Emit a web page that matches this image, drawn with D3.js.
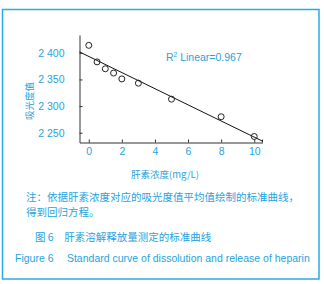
<!DOCTYPE html>
<html>
<head>
<meta charset="utf-8">
<script src="https://cdn.jsdelivr.net/npm/d3@7"></script>
<style>
  body { margin: 0; background: #fff; }
  svg { display: block; }
  text { font-family: "Liberation Sans", Arial, "Noto Sans CJK SC", sans-serif; }
  .cjk { font-family: "Noto Sans CJK SC", sans-serif; }
</style>
</head>
<body>
<svg id="chart" width="324" height="284"></svg>
<script>
// heparin concentration (mg/L) and absorbance values
conc = [0, 0.5, 1, 1.5, 2, 3, 5, 8, 10];
absorb = [2.414, 2.383, 2.370, 2.362, 2.351, 2.343, 2.313, 2.280, 2.243];
xTicks = [0, 2, 4, 6, 8, 10];
yTicks = [2.250, 2.300, 2.350, 2.400];
// linear fit shown in the figure
fitIntercept = 2.3932;
fitSlope = -0.01514;
r2Label = "0.967";

blue = "#1fa3de";

svg = d3.select("#chart");

// frame
svg.append("rect")
    .attr("x", 2.5).attr("y", 9.5)
    .attr("width", 316.5).attr("height", 269.5)
    .attr("fill", "none")
    .attr("stroke", "#2aaae2")
    .attr("stroke-width", 1.5);

x = d3.scaleLinear().domain([-0.56, 10.5]).range([79.5, 262.5]);
y = d3.scaleLinear().domain([2.2317, 2.4334]).range([142.5, 35]);

// axes (ticks inward)
xAxis = svg.append("g")
    .attr("transform", `translate(0, ${y.range()[0]})`)
    .call(d3.axisBottom(x).tickValues(xTicks).tickSizeInner(-3).tickSizeOuter(0).tickPadding(5.5));
yAxis = svg.append("g")
    .attr("transform", `translate(${x.range()[0]}, 0)`)
    .call(d3.axisLeft(y).tickValues(yTicks).tickSizeInner(-3).tickSizeOuter(0).tickPadding(15)
        .tickFormat(d => d3.format(".3f")(d).replace(".", " ")));

[xAxis, yAxis].forEach(g => {
    g.select(".domain").attr("stroke", "#333").attr("stroke-width", 1);
    g.selectAll(".tick line").attr("stroke", "#333");
    g.selectAll("text").attr("fill", blue).attr("font-size", 10.5)
        .attr("font-family", "Liberation Sans, Arial, sans-serif");
});
// closing tick at right end of x axis
svg.append("line")
    .attr("x1", x.range()[1]).attr("x2", x.range()[1])
    .attr("y1", y.range()[0]).attr("y2", y.range()[0] - 3)
    .attr("stroke", "#333");

// regression line
svg.append("line")
    .attr("x1", x(x.domain()[0])).attr("y1", y(fitIntercept + fitSlope * x.domain()[0]))
    .attr("x2", x(x.domain()[1])).attr("y2", y(fitIntercept + fitSlope * x.domain()[1]))
    .attr("stroke", "#111").attr("stroke-width", 1);

// data points
svg.selectAll(".pt")
    .data(conc)
    .join("circle")
    .classed("pt", true)
    .attr("cx", d => x(d))
    .attr("cy", (d, i) => y(absorb[i]))
    .attr("r", 3)
    .attr("fill", "none")
    .attr("stroke", "#222")
    .attr("stroke-width", 1);

// R2 label
r2 = svg.append("text")
    .attr("x", 166).attr("y", 61)
    .attr("fill", blue).attr("font-size", 10.5);
r2.append("tspan").text("R");
r2.append("tspan").text("2").attr("font-size", 6.5).attr("dy", -4);
r2.append("tspan").text(" Linear=" + r2Label).attr("dy", 4);

// axis titles
svg.append("text")
    .classed("cjk", true)
    .attr("transform", "translate(33, 101) rotate(-90)")
    .attr("text-anchor", "middle")
    .attr("fill", blue).attr("font-size", 9.5)
    .text("吸光度值");
svg.append("text")
    .classed("cjk", true)
    .attr("x", 165).attr("y", 178)
    .attr("text-anchor", "middle")
    .attr("fill", blue).attr("font-size", 9.5)
    .text("肝素浓度(mg/L)");

// captions
svg.append("text")
    .classed("cjk", true)
    .attr("x", 26).attr("y", 200.5)
    .attr("fill", blue).attr("font-size", 10.5)
    .text("注：依据肝素浓度对应的吸光度值平均值绘制的标准曲线，");
svg.append("text")
    .classed("cjk", true)
    .attr("x", 26).attr("y", 216)
    .attr("fill", blue).attr("font-size", 10.5)
    .text("得到回归方程。");
svg.append("text")
    .classed("cjk", true)
    .attr("x", 35).attr("y", 240.5)
    .attr("fill", blue).attr("font-size", 10.5)
    .text("图 6　肝素溶解释放量测定的标准曲线");
svg.append("text")
    .attr("x", 15).attr("y", 262)
    .attr("fill", blue).attr("font-size", 10.5)
    .text("Figure 6\u2003 Standard curve of dissolution and release of heparin");
</script>
</body>
</html>
